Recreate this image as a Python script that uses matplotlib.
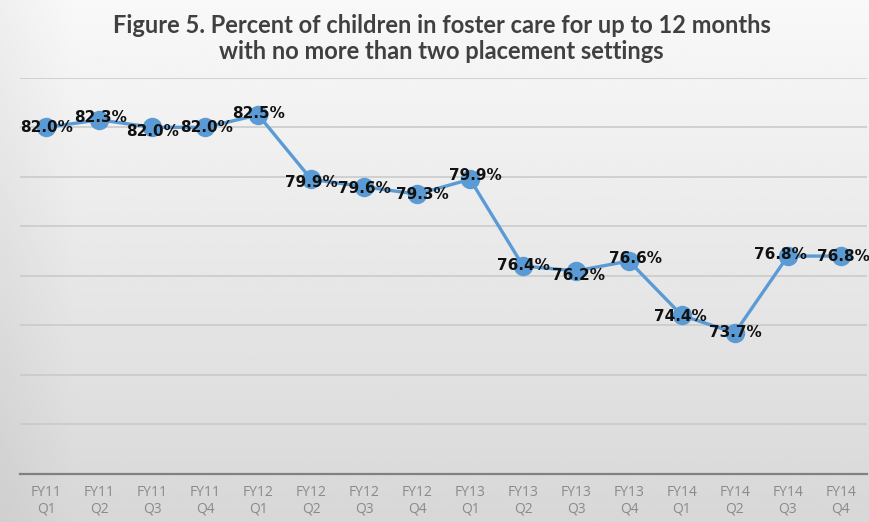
import numpy as np
import matplotlib

matplotlib.use("Agg")

import matplotlib.pyplot as plt  # noqa: E402

# data
categories = [
    "FY11\nQ1", "FY11\nQ2", "FY11\nQ3", "FY11\nQ4",
    "FY12\nQ1", "FY12\nQ2", "FY12\nQ3", "FY12\nQ4",
    "FY13\nQ1", "FY13\nQ2", "FY13\nQ3", "FY13\nQ4",
    "FY14\nQ1", "FY14\nQ2", "FY14\nQ3", "FY14\nQ4",
]
values = [82.0, 82.3, 82.0, 82.0, 82.5, 79.9, 79.6, 79.3,
          79.9, 76.4, 76.2, 76.6, 74.4, 73.7, 76.8, 76.8]
y_ticks = [68, 70, 72, 74, 76, 78, 80, 82, 84]

TITLE = ("Figure 5. Percent of children in foster care for up to 12 months\n"
         "with no more than two placement settings")

_BLUE = "#5b9bd5"
_GRID = "#c8c8c8"
_AXIS = "#808080"
_TICK = "#8a8a8a"
_TITLE = "#404040"

# small nudges (points) so labels sit like Excel placed them
label_nudge = [(0, 0), (1, 2), (0, -3), (1, 0), (0, 1), (0, -2), (0, -1), (4, 0),
               (4, 3), (0, 0), (2, -3), (5, 2), (-1, -1), (0, 0), (-5, 1), (2, 0)]

fig = plt.figure(figsize=(8.69, 5.22), dpi=100)

# soft grey gradient background, like the slide the chart sat on
bg = fig.add_axes([0, 0, 1, 1], zorder=0)
yy = np.linspace(0, 1, 200)[:, None]
xx = np.linspace(0, 1, 300)[None, :]
shade = 0.975 - 0.13 * yy - 0.035 * np.clip(1 - xx * 12, 0, 1)
bg.imshow(shade, cmap="gray", vmin=0, vmax=1, aspect="auto",
          extent=[0, 1, 0, 1], origin="upper")
bg.axis("off")

ax = fig.add_axes([0.023, 0.092, 0.975, 0.759], zorder=1)
ax.patch.set_alpha(0)

x = np.arange(len(values))
ax.plot(x, values, color=_BLUE, linewidth=2.4, marker="o", markersize=14,
        markerfacecolor=_BLUE, markeredgewidth=0, zorder=3)

for xi, v, (dx, dy) in zip(x, values, label_nudge):
    ax.annotate(f"{v:.1f}%", (xi, v), textcoords="offset points", xytext=(dx, dy),
                ha="center", va="center", fontsize=11, fontweight="bold",
                color="#111111", zorder=4)

ax.set_xlim(-0.5, len(values) - 0.5)
ax.set_ylim(y_ticks[0], y_ticks[-1])
ax.set_yticks(y_ticks)
ax.set_yticklabels([])
ax.set_xticks(x)
ax.set_xticklabels(categories, fontsize=10, color=_TICK, family="Open Sans",
                   linespacing=1.1)
ax.tick_params(axis="both", length=0)
ax.tick_params(axis="x", pad=8)
ax.grid(axis="y", color=_GRID, linewidth=1.1)
ax.set_axisbelow(True)
for side in ("top", "right", "left"):
    ax.spines[side].set_visible(False)
ax.spines["bottom"].set_color(_AXIS)
ax.spines["bottom"].set_linewidth(1.6)

fig.text(0.508, 0.926, TITLE, ha="center", va="center", fontsize=17,
         fontweight="bold", color=_TITLE, family="Lato", linespacing=1.15)

fig.savefig("out.png", dpi=100)
